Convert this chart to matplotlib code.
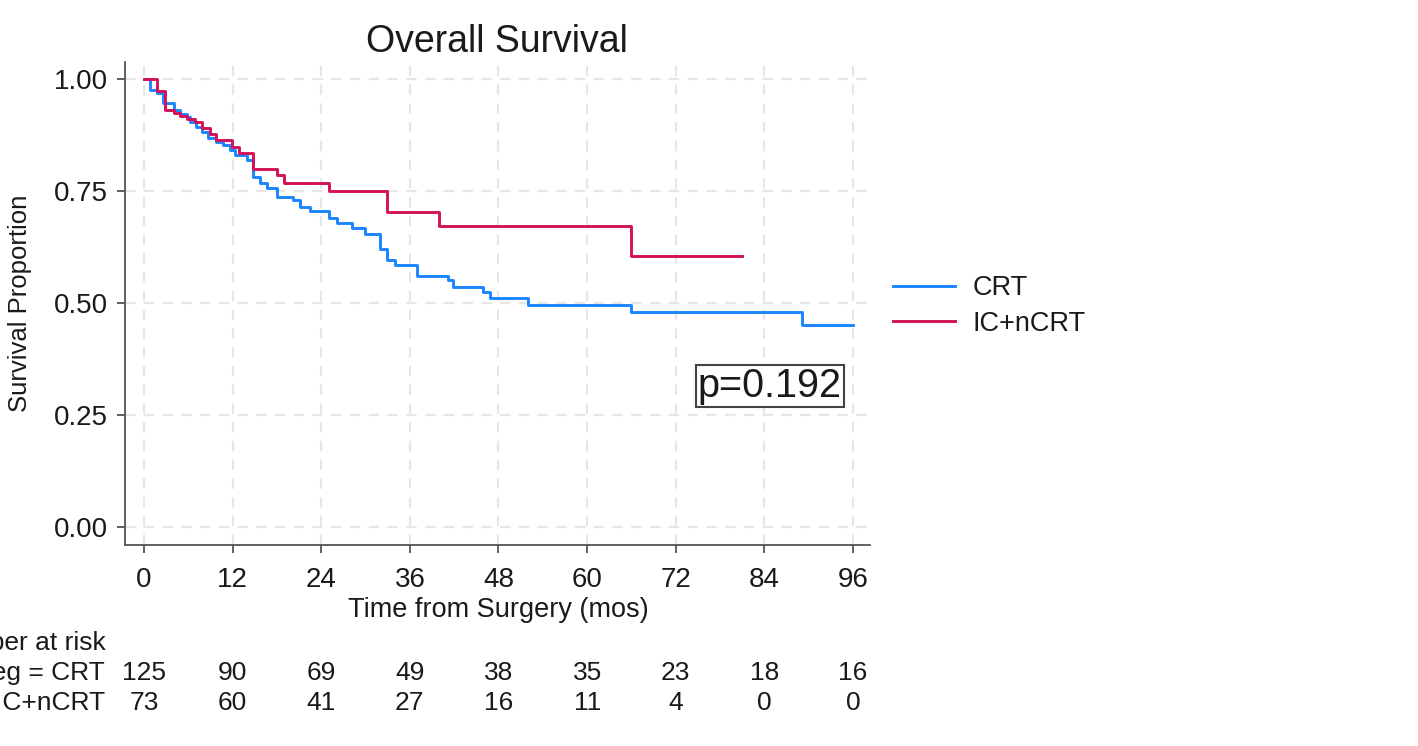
import numpy as np
import matplotlib
matplotlib.use("Agg")
import matplotlib.pyplot as plt
from matplotlib.transforms import blended_transform_factory

plt.rcParams['font.family'] = ['Liberation Sans', 'DejaVu Sans']

# --- data ---
groups = ["CRT", "IC+nCRT"]
row_labels = ["reg = CRT", "reg = IC+nCRT"]
colors = ["#1a85ff", "#d41159"]

crt_time = [0, 0.8, 1.7, 2.6, 4.0, 4.9, 5.8, 6.2, 7.1, 7.8, 8.7, 9.8, 10.7, 11.6,
            12.3, 13.9, 14.8, 15.7, 16.6, 18.0, 20.2, 21.1, 22.5, 25.0, 26.1, 28.1,
            29.9, 32.0, 32.9, 34.0, 37.0, 41.1, 41.9, 45.9, 46.8, 52.0, 66.0, 89.1, 96.0]
crt_surv = [1.0, 0.975, 0.968, 0.946, 0.931, 0.923, 0.916, 0.905, 0.894, 0.882, 0.868,
            0.860, 0.853, 0.842, 0.830, 0.819, 0.782, 0.767, 0.756, 0.737, 0.730, 0.715,
            0.705, 0.689, 0.678, 0.667, 0.655, 0.620, 0.596, 0.585, 0.561, 0.551, 0.536,
            0.524, 0.512, 0.496, 0.480, 0.451, 0.451]

ic_time = [0, 1.8, 2.8, 4.0, 4.9, 5.8, 6.9, 7.8, 8.9, 9.8, 11.9, 12.8, 14.8, 18.0,
           18.9, 25.0, 32.9, 39.9, 66.0, 81.0]
ic_surv = [1.0, 0.974, 0.931, 0.925, 0.917, 0.911, 0.905, 0.890, 0.878, 0.864, 0.849,
           0.834, 0.800, 0.786, 0.769, 0.751, 0.703, 0.673, 0.605, 0.605]

risk_times = [0, 12, 24, 36, 48, 60, 72, 84, 96]
risk_crt = [125, 90, 69, 49, 38, 35, 23, 18, 16]
risk_ic = [73, 60, 41, 27, 16, 11, 4, 0, 0]

p_text = "p=0.192"

# --- figure ---
W, H = 1418, 746
fig = plt.figure(figsize=(W / 100, H / 100), dpi=100)
ax = fig.add_axes([125 / W, 1 - 545 / H, (870 - 125) / W, (545 - 62) / H])

text_col = "#1a1a1a"
spine_col = "#555555"

ax.step(crt_time, crt_surv, where='post', color=colors[0], lw=2.1, label=groups[0])
ax.step(ic_time, ic_surv, where='post', color=colors[1], lw=2.1, label=groups[1])

ax.set_xlim(-2.57, 98.3)
ax.set_ylim(-0.040, 1.038)
ax.set_xticks(risk_times)
ax.set_yticks([0, 0.25, 0.5, 0.75, 1.0])
ax.set_yticklabels(["0.00", "0.25", "0.50", "0.75", "1.00"])

ax.grid(True, color="#e6e6e6", lw=1.5, linestyle=(0, (5, 4)))
ax.set_axisbelow(True)
for s in ['top', 'right']:
    ax.spines[s].set_visible(False)
for s in ['left', 'bottom']:
    ax.spines[s].set_color(spine_col)
    ax.spines[s].set_linewidth(1.3)
ax.tick_params(axis='both', length=6, width=1.3, color=spine_col,
               labelsize=20, labelcolor=text_col)
ax.tick_params(axis='x', pad=9.5)
ax.tick_params(axis='y', pad=6)

fig.text(497 / W, 1 - 42 / H, "Overall Survival", ha='center', va='center',
         fontsize=27, color=text_col)
fig.text(20 / W, 1 - 303 / H, "Survival Proportion", rotation=90, ha='center',
         va='center', fontsize=18.5, color=text_col)
fig.text(498 / W, 1 - 610 / H, "Time from Surgery (mos)", ha='center', va='center',
         fontsize=19.5, color=text_col)

# p-value box
ax.text(75, 0.272, p_text, ha='left', va='bottom', fontsize=28.5, color=text_col,
        bbox=dict(boxstyle='square,pad=0.05', fc='white', ec='#444444', lw=1.5))

# legend
leg = ax.legend(loc='center left', bbox_to_anchor=(1.031, 0.495), frameon=False,
                fontsize=19.5, handlelength=2.3, handletextpad=0.63,
                labelspacing=0.35, borderpad=0, borderaxespad=0)
for t in leg.get_texts():
    t.set_color(text_col)

# number at risk table
tr = blended_transform_factory(ax.transData, fig.transFigure)
fig.text(106 / W, 1 - 643 / H, "Number at risk", ha='right', va='center',
         fontsize=19, color=text_col)
for row, (lab, vals) in enumerate(zip(row_labels, [risk_crt, risk_ic])):
    y = 1 - (673 + 30 * row) / H
    fig.text(105 / W, y, lab, ha='right', va='center', fontsize=19, color=text_col)
    for t, v in zip(risk_times, vals):
        ax.text(t, y, str(v), transform=tr, ha='center', va='center',
                fontsize=19, color=text_col, clip_on=False)

fig.savefig("out.png", dpi=100)
